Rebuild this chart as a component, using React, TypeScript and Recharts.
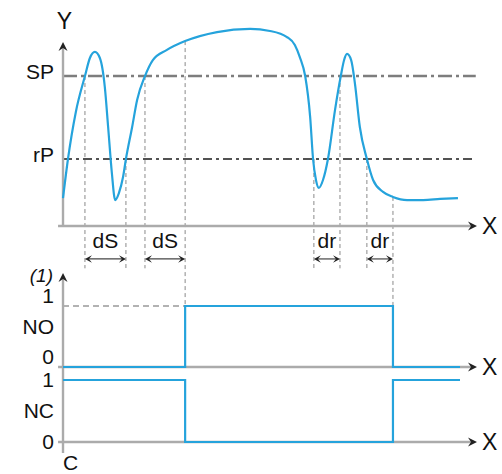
import { Line, LineChart, ReferenceLine, XAxis, YAxis } from "recharts";

// process value Y over time X (top panel)
const curveT = [
  0, 1.2, 3.1, 5.3, 6.5, 7.7, 8.9, 10.1, 10.9, 11.8, 12.6, 13.5, 14.5, 15.2, 16.7,
  17.9, 19.8, 21.7, 25.1, 29.5, 37.2, 45.2, 50.0, 54.1, 56.0, 57.2, 58.5, 59.7,
  60.4, 61.1, 61.8, 62.8, 64.0, 65.7, 67.1, 67.9, 68.6, 69.6, 70.5, 71.7, 73.4,
  74.9, 77.3, 79.7, 83.1, 87.0, 91.1, 95.4,
];
const curveY = [
  15.2, 36.4, 62.0, 81.5, 91.3, 94.6, 91.3, 75.5, 53.8, 28.8, 14.1, 17.9, 26.6,
  36.4, 53.8, 68.5, 81.5, 90.2, 95.7, 100.5, 105.4, 107.1, 106.0, 102.7, 98.4,
  91.8, 81.5, 59.2, 36.4, 25.0, 20.7, 25.0, 36.4, 63.0, 81.5, 90.2, 93.5, 90.2,
  77.7, 53.8, 36.4, 25.0, 18.5, 15.8, 14.1, 14.1, 14.7, 15.2,
];

const SP = 81.5;
const RP = 36.4;

// output states
const switchT = [0, 29.5, 79.7, 95.9];
const noState = [0, 1, 0, 0];
const ncState = [1, 0, 1, 1];

// delays
const dSPairs = [
  [5.3, 15.2],
  [19.8, 29.5],
];
const drPairs = [
  [60.6, 66.9],
  [73.4, 79.7],
];

// guide lines: time, top level, bottom level
const guideT = [5.3, 15.2, 19.8, 29.5, 60.6, 66.9, 73.4, 79.7];
const guideTop = [SP, RP, SP, 100.5, RP, SP, RP, 15.8];
const guideBottom = [-23, -23, -23, -43.5, -23, -23, -23, -43.5];

const curveData = curveT.map((t, i) => ({ t, y: curveY[i] }));
const noData = switchT.map((t, i) => ({ t, v: noState[i] }));
const ncData = switchT.map((t, i) => ({ t, v: ncState[i] }));

const FONT = "Liberation Sans, Arial, sans-serif";
const BLUE = "#25a3dc";
const AXIS = "#ababab";
const X_DOMAIN: [number, number] = [-1.5, 100];
const Y_AXIS_W = 56.8;

const head = (x: number, y: number, dx: number, dy: number, len = 9, w = 4.5) => {
  const px = -dy;
  const py = dx;
  return `${x},${y} ${x - dx * len + px * w},${y - dy * len + py * w} ${x - dx * (len - 3)},${
    y - dy * (len - 3)
  } ${x - dx * len - px * w},${y - dy * len - py * w}`;
};

const axisArrow = (extra?: (p: any) => any) => (p: any) => {
  const { x1, y1, x2, y2 } = p;
  const l = Math.hypot(x2 - x1, y2 - y1) || 1;
  const dx = (x2 - x1) / l;
  const dy = (y2 - y1) / l;
  return (
    <g>
      <line x1={x1} y1={y1} x2={x2 - dx * 4} y2={y2 - dy * 4} stroke={AXIS} strokeWidth={2.4} />
      <polygon points={head(x2, y2, dx, dy)} fill="#222" />
      {extra ? extra(p) : null}
    </g>
  );
};

const xLabel = (p: any) => (
  <text x={p.x2 + 5} y={p.y2 + 8} fontSize={23} fontFamily={FONT} fill="#111">
    X
  </text>
);

const dimArrow = (text: string) => (p: any) => {
  const { x1, y1, x2 } = p;
  return (
    <g>
      <line x1={x1 + 2} y1={y1} x2={x2 - 2} y2={y1} stroke="#444" strokeWidth={1.2} />
      <polygon points={head(x1, y1, -1, 0, 7, 3.8)} fill="#222" />
      <polygon points={head(x2, y1, 1, 0, 7, 3.8)} fill="#222" />
      <text x={(x1 + x2) / 2} y={y1 - 11} textAnchor="middle" fontSize={21} fontFamily={FONT} fill="#111">
        {text}
      </text>
    </g>
  );
};

const labelTick = (names: Record<string, string>, dy: number) => (props: any) => {
  const { y, payload } = props;
  return (
    <text x={54} y={y + dy} textAnchor="end" fontSize={21} fontFamily={FONT} fill="#111">
      {names[String(payload.value)] ?? payload.value}
    </text>
  );
};

const W = 502;
const H = 474;
const layer = { position: "absolute" as const, left: 0, top: 0 };

export default function App() {
  return (
    <div style={{ position: "absolute", left: 0, top: 0, width: W, height: H, background: "#fff" }}>
      <div style={layer}>
        <LineChart width={W} height={H} data={curveData} margin={{ top: 23.6, right: 25, bottom: 156, left: 0 }}>
          <XAxis type="number" dataKey="t" domain={X_DOMAIN} hide allowDataOverflow />
          <YAxis
            type="number"
            domain={[-50, 110]}
            allowDataOverflow
            ticks={[SP, RP]}
            width={Y_AXIS_W}
            axisLine={false}
            tickLine={false}
            tick={labelTick({ [String(SP)]: "SP", [String(RP)]: "rP" }, 3)}
          />
          {guideT.map((t, i) => (
            <ReferenceLine
              key={`g${i}`}
              segment={[
                { x: t, y: guideTop[i] },
                { x: t, y: guideBottom[i] },
              ]}
              stroke="#8a8a8a"
              strokeWidth={1}
              strokeDasharray="4 3"
            />
          ))}
          <ReferenceLine
            segment={[
              { x: 0, y: SP },
              { x: 99.7, y: SP },
            ]}
            stroke="#7d7d7d"
            strokeWidth={2.4}
            strokeDasharray="14 4 3 4"
          />
          <ReferenceLine
            segment={[
              { x: 0, y: RP },
              { x: 99.7, y: RP },
            ]}
            stroke="#1a1a1a"
            strokeWidth={1.3}
            strokeDasharray="9 4 3 4"
          />
          <ReferenceLine
            segment={[
              { x: -1.2, y: 0 },
              { x: 100, y: 0 },
            ]}
            shape={axisArrow(xLabel)}
          />
          <ReferenceLine
            segment={[
              { x: 0, y: 0 },
              { x: 0, y: 100 },
            ]}
            shape={axisArrow((p) => (
              <text x={p.x2 + 1.5} y={p.y2 - 13} textAnchor="middle" fontSize={23} fontFamily={FONT} fill="#111">
                Y
              </text>
            ))}
          />
          {dSPairs.map((d, i) => (
            <ReferenceLine
              key={`ds${i}`}
              segment={[
                { x: d[0], y: -17.9 },
                { x: d[1], y: -17.9 },
              ]}
              shape={dimArrow("dS")}
            />
          ))}
          {drPairs.map((d, i) => (
            <ReferenceLine
              key={`dr${i}`}
              segment={[
                { x: d[0], y: -17.9 },
                { x: d[1], y: -17.9 },
              ]}
              shape={dimArrow("dr")}
            />
          ))}
          <Line
            type="monotone"
            dataKey="y"
            stroke={BLUE}
            strokeWidth={2.2}
            dot={false}
            isAnimationActive={false}
          />
        </LineChart>
      </div>

      <div style={layer}>
        <LineChart width={W} height={H} data={noData} margin={{ top: 269.4, right: 25, bottom: 15.5, left: 0 }}>
          <XAxis type="number" dataKey="t" domain={X_DOMAIN} hide allowDataOverflow />
          <YAxis
            type="number"
            domain={[-1.5, 1.6]}
            allowDataOverflow
            ticks={[0, 0.5, 1]}
            width={Y_AXIS_W}
            axisLine={false}
            tickLine={false}
            tick={labelTick({ "0.5": "NO" }, -3)}
          />
          <ReferenceLine
            segment={[
              { x: 0, y: 1 },
              { x: 29.5, y: 1 },
            ]}
            stroke="#999"
            strokeWidth={1.5}
            strokeDasharray="6 4"
          />
          <ReferenceLine
            segment={[
              { x: -1.2, y: 0 },
              { x: 100, y: 0 },
            ]}
            shape={axisArrow(xLabel)}
          />
          <ReferenceLine
            segment={[
              { x: 0, y: -1.41 },
              { x: 0, y: 1.54 },
            ]}
            shape={axisArrow((p) => (
              <g>
                <text
                  x={p.x2 - 10}
                  y={p.y2 + 9}
                  textAnchor="end"
                  fontSize={19}
                  fontStyle="italic"
                  fontFamily={FONT}
                  fill="#111"
                >
                  (1)
                </text>
                <text x={p.x1} y={p.y1 + 17} fontSize={21} fontFamily={FONT} fill="#111">
                  C
                </text>
              </g>
            ))}
          />
          <Line
            type="stepAfter"
            dataKey="v"
            stroke={BLUE}
            strokeWidth={2.2}
            dot={false}
            isAnimationActive={false}
          />
        </LineChart>
      </div>

      <div style={layer}>
        <LineChart width={W} height={H} data={ncData} margin={{ top: 367.6, right: 25, bottom: 19.6, left: 0 }}>
          <XAxis type="number" dataKey="t" domain={X_DOMAIN} hide allowDataOverflow />
          <YAxis
            type="number"
            domain={[-0.2, 1.2]}
            allowDataOverflow
            ticks={[0, 0.5, 1]}
            width={Y_AXIS_W}
            axisLine={false}
            tickLine={false}
            tick={labelTick({ "0.5": "NC" }, 7)}
          />
          <ReferenceLine
            segment={[
              { x: -1.2, y: 0 },
              { x: 100, y: 0 },
            ]}
            shape={axisArrow(xLabel)}
          />
          <Line
            type="stepAfter"
            dataKey="v"
            stroke={BLUE}
            strokeWidth={2.2}
            dot={false}
            isAnimationActive={false}
          />
        </LineChart>
      </div>
    </div>
  );
}
